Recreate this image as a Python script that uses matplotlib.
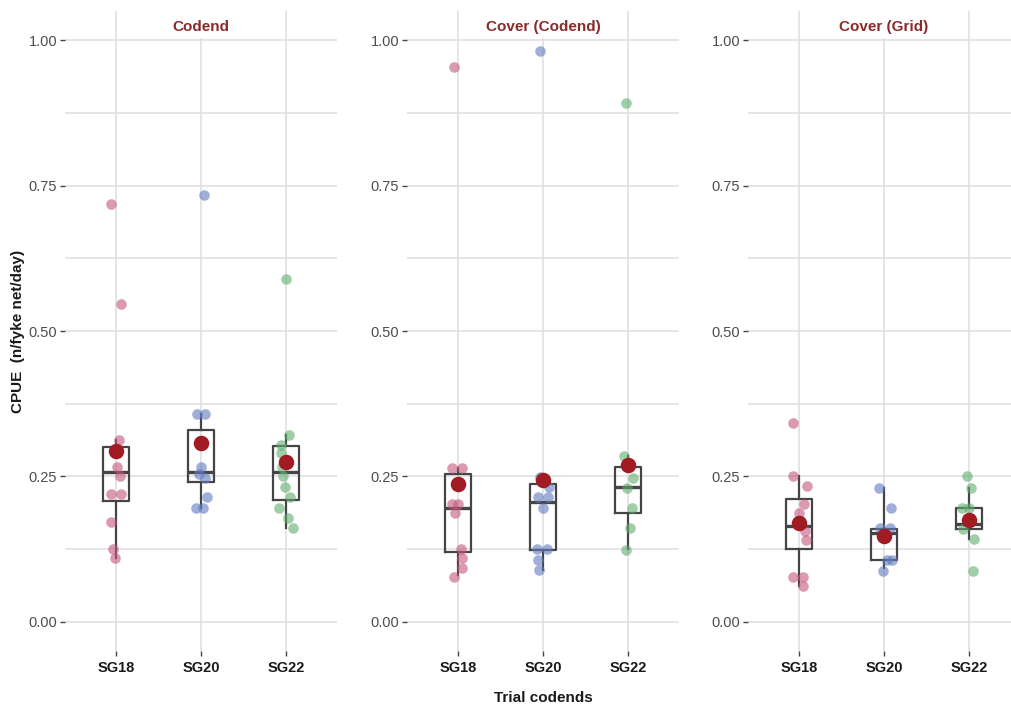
#!/usr/bin/env python3
"""
CPUE per trial codend, three catch compartments
"""

import matplotlib.pyplot as plt
from matplotlib.patches import Rectangle
from matplotlib.ticker import MultipleLocator

plt.rcParams['font.family'] = ['Liberation Sans', 'DejaVu Sans']

groups = ['SG18', 'SG20', 'SG22']
panels = ['Codend', 'Cover (Codend)', 'Cover (Grid)']

# individual observations (CPUE) and the horizontal jitter seen in the picture
codend_vals = [[0.719, 0.546, 0.313, 0.267, 0.250, 0.219, 0.219, 0.172, 0.125, 0.109],
               [0.733, 0.357, 0.357, 0.267, 0.255, 0.248, 0.214, 0.196, 0.196],
               [0.589, 0.321, 0.304, 0.290, 0.267, 0.250, 0.232, 0.215, 0.196, 0.178, 0.161]]
codend_jit = [[-0.06, 0.055, 0.03, 0.016, 0.05, -0.063, 0.055, -0.063, -0.03, -0.01],
              [0.04, -0.043, 0.047, 0.0, -0.02, 0.05, 0.067, -0.06, 0.027],
              [0.0, 0.04, -0.06, -0.06, -0.05, -0.04, -0.01, 0.05, -0.08, 0.02, 0.08]]
# box stats: whisker low, q1, median, q3, whisker high
codend_box = [[0.109, 0.207, 0.257, 0.301, 0.313],
              [0.196, 0.240, 0.257, 0.330, 0.357],
              [0.161, 0.209, 0.258, 0.303, 0.321]]
codend_mean = [0.293, 0.308, 0.275]

covcod_vals = [[0.954, 0.265, 0.265, 0.202, 0.202, 0.187, 0.125, 0.109, 0.092, 0.078],
               [0.982, 0.249, 0.232, 0.214, 0.214, 0.196, 0.125, 0.125, 0.107, 0.089],
               [0.892, 0.286, 0.248, 0.231, 0.196, 0.161, 0.124]]
covcod_jit = [[-0.047, -0.067, 0.043, -0.067, 0.0, -0.03, 0.035, 0.05, 0.043, -0.05],
              [-0.035, -0.035, 0.07, -0.055, 0.055, 0.0, -0.075, 0.043, -0.055, -0.047],
              [-0.024, -0.043, 0.063, -0.016, 0.043, 0.02, -0.02]]
covcod_box = [[0.080, 0.120, 0.195, 0.254, 0.264],
              [0.089, 0.124, 0.206, 0.237, 0.249],
              [0.125, 0.187, 0.232, 0.267, 0.285]]
covcod_mean = [0.237, 0.244, 0.269]

covgrid_vals = [[0.342, 0.250, 0.234, 0.202, 0.188, 0.157, 0.141, 0.078, 0.078, 0.062],
                [0.231, 0.195, 0.161, 0.161, 0.107, 0.107, 0.088],
                [0.251, 0.231, 0.195, 0.195, 0.159, 0.142, 0.088]]
covgrid_jit = [[-0.075, -0.075, 0.09, 0.06, 0.0, 0.07, 0.08, -0.075, 0.05, 0.05],
               [-0.06, 0.08, -0.047, 0.07, 0.03, 0.1, -0.016],
               [-0.024, 0.024, -0.08, 0.0, -0.07, 0.055, 0.047]]
covgrid_box = [[0.062, 0.125, 0.164, 0.211, 0.250],
               [0.092, 0.107, 0.152, 0.160, 0.231],
               [0.142, 0.160, 0.168, 0.196, 0.231]]
covgrid_mean = [0.170, 0.148, 0.176]

all_vals = [codend_vals, covcod_vals, covgrid_vals]
all_jit = [codend_jit, covcod_jit, covgrid_jit]
all_box = [codend_box, covcod_box, covgrid_box]
all_mean = [codend_mean, covcod_mean, covgrid_mean]

point_colors = ['#C4577A', '#5F7BC0', '#5FAE6E']
mean_color = '#A01C22'
title_color = '#8B2A2A'
grid_color = '#E0E0E0'
box_color = '#454545'

W, H = 1012, 707
fig = plt.figure(figsize=(W / 100, H / 100), dpi=100)

panel_left = [65, 407, 748]
for p in range(3):
    ax = fig.add_axes([panel_left[p] / W, (H - 651) / H, 272 / W, 640 / H])
    pos = [1, 2, 3]

    stats = []
    for i in range(3):
        lo, q1, med, q3, hi = all_box[p][i]
        stats.append(dict(whislo=lo, q1=q1, med=med, q3=q3, whishi=hi, fliers=[]))
    ax.bxp(stats, positions=pos, widths=0.31, showfliers=False, showcaps=False,
           patch_artist=False,
           boxprops=dict(color=box_color, linewidth=1.6),
           whiskerprops=dict(color=box_color, linewidth=1.6),
           medianprops=dict(color=box_color, linewidth=2.4), zorder=2)

    for i in range(3):
        xs = [pos[i] + j for j in all_jit[p][i]]
        ax.scatter(xs, all_vals[p][i], s=58, color=point_colors[i], alpha=0.6,
                   linewidths=0, zorder=3)
    ax.scatter(pos, all_mean[p], s=125, color=mean_color, linewidths=0, zorder=4)

    ax.set_xlim(0.4, 3.6)
    ax.set_ylim(-0.05, 1.05)
    ax.set_xticks(pos)
    ax.set_xticklabels(groups, fontweight='bold', fontsize=10.5, color='#1A1A1A')
    ax.set_yticks([0, 0.25, 0.5, 0.75, 1.0])
    ax.set_yticklabels(['0.00', '0.25', '0.50', '0.75', '1.00'], fontsize=10.5,
                       color='#4D4D4D')
    ax.yaxis.set_minor_locator(MultipleLocator(0.125))
    ax.tick_params(axis='both', which='major', length=3.5, width=1, color='#444444', pad=2)
    ax.tick_params(axis='x', pad=4)
    ax.tick_params(axis='y', which='minor', length=0)
    ax.set_axisbelow(True)
    ax.grid(True, which='both', color=grid_color, linewidth=1.2)
    for s in ax.spines.values():
        s.set_visible(False)

    # white strip behind the panel title
    ax.add_patch(Rectangle((1.5, 1.004), 1.0, 0.06, facecolor='white',
                           edgecolor='none', zorder=1))
    ax.text(2, 1.022, panels[p], ha='center', va='center', fontsize=11,
            fontweight='bold', color=title_color, zorder=5)

fig.text(18 / W, (H - 331) / H, 'CPUE  (n/fyke net/day)', rotation=90,
         ha='center', va='center', fontsize=11, fontweight='bold', color='#1A1A1A')
fig.text(543 / W, (H - 698) / H, 'Trial codends', ha='center', va='center',
         fontsize=11, fontweight='bold', color='#1A1A1A')

plt.savefig('out.png', dpi=100)
